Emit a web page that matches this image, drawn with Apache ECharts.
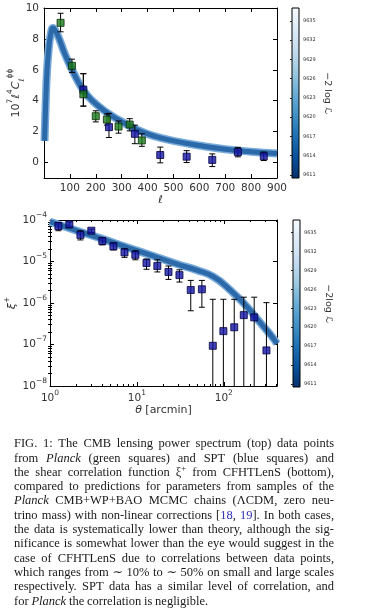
<!DOCTYPE html>
<html><head><meta charset="utf-8">
<script src="https://cdn.jsdelivr.net/npm/echarts@6/dist/echarts.min.js"></script>
<style>html,body{margin:0;padding:0;background:#fff}#c{width:368px;height:608px}</style>
</head><body><div id="c"></div>
<script>
// ---------- TOP PANEL DATA ----------
const ellCurve = [2,5,8,12,18,25,35,45,60,80,100,125,150,175,200,250,300,350,400,450,500,600,700,800,900];
const clCurve  = [1.4,3.0,4.5,6.0,7.3,8.2,8.7,8.5,7.95,7.05,6.3,5.45,4.72,4.2,3.8,3.15,2.65,2.2,1.85,1.6,1.4,1.1,0.86,0.7,0.58];

const planckEll = [64,108,152,200,243,288,331,378];
const planckVal = [9.04,6.26,4.42,3.0,2.78,2.33,2.46,1.43];
const planckLo  = [8.46,5.83,3.65,2.63,2.42,1.9,2.05,1.05];
const planckHi  = [9.66,6.69,5.75,3.35,3.14,2.69,2.84,1.86];

const sptEll = [152,251,351,449,551,650,749,849];
const sptVal = [4.72,2.29,1.86,0.49,0.38,0.17,0.68,0.41];
const sptLo  = [3.65,1.62,1.22,-0.02,0.0,-0.26,0.37,0.13];
const sptHi  = [5.75,3.18,2.42,1.0,0.77,0.56,0.98,0.68];

const topYTicks = [0,2,4,6,8,10];

// ---------- BOTTOM PANEL DATA ----------
const thetaCurve = [1,2,4,8,16,32,49,76,119,185,240,287,350,410];
const xiCurve = [9.1e-5,5.6e-5,3.5e-5,2.14e-5,1.32e-5,8.1e-6,6.2e-6,4.3e-6,2.04e-6,8.1e-7,4.2e-7,2.7e-7,1.66e-7,1.05e-7];

const thetaPts = [1.25,1.67,2.24,2.99,4.0,5.37,7.2,9.6,12.9,17.2,23.1,30.9,41.7,56,74.8,99,132,170,224,310];
const xiPts = [7.16e-5,7.87e-5,4.37e-5,5.52e-5,3.12e-5,2.32e-5,1.66e-5,1.45e-5,9.2e-6,7.8e-6,5.6e-6,4.7e-6,2.06e-6,2.14e-6,9.3e-8,2.1e-7,2.6e-7,5.1e-7,4.5e-7,7.2e-8];
const xiLo = [5.52e-5,6.52e-5,3.31e-5,5.0e-5,2.51e-5,1.9e-5,1.26e-5,1.1e-5,6.5e-6,5.6e-6,3.7e-6,3.2e-6,6.5e-7,7.9e-7,0,0,0,0,0,0];
const xiHi = [8.61e-5,8.95e-5,5.5e-5,6.0e-5,3.72e-5,2.82e-5,2.04e-5,1.82e-5,1.15e-5,1.1e-5,7.8e-6,6.3e-6,3.5e-6,3.5e-6,1.23e-6,1.23e-6,1.23e-6,1.38e-6,1.38e-6,1.02e-6];

const minorX = [2,3,4,5,6,7,8,9,20,30,40,50,60,70,80,90,200,300,400];
const minorYMant = [2,3,4,5,6,7,8,9];
const minorYDec = [-8,-7,-6,-5];

// ---------- COLORBAR ----------
const cbTicks = [9611,9614,9617,9620,9623,9626,9629,9632,9635];
const cbMin = 9610.5, cbMax = 9637;
const cbColors = ['#f7fbff','#deebf7','#c6dbef','#9ecae1','#6baed6','#4292c6','#2171b5','#08519c','#08306b'];

// ---------- CAPTION ----------
const capLines = [
 'FIG. 1: The CMB lensing power spectrum (top) data points',
 'from {i|Planck} (green squares) and SPT (blue squares) and',
 'the shear correlation function ξ{s|+} from CFHTLenS (bottom),',
 'compared to predictions for parameters from samples of the',
 '{i|Planck} CMB+WP+BAO MCMC chains (ΛCDM, zero neu-',
 'trino mass) with non-linear corrections [{b|18}, {b|19}]. In both cases,',
 'the data is systematically lower than theory, although the sig-',
 'nificance is somewhat lower than the eye would suggest in the',
 'case of CFHTLenS due to correlations between data points,',
 'which ranges from ∼ 10% to ∼ 50% on small and large scales',
 'respectively. SPT data has a similar level of correlation, and',
 'for {i|Planck} the correlation is negligible.'
];

// ======================================================
const FS = 'DejaVu Sans';
const LC = '#333';
const zip = (a,b)=>a.map((v,i)=>[v,b[i]]);
const axLine = {show:true, onZero:false, lineStyle:{color:'#000', width:1}};
const tickIn = (len, extra)=>Object.assign({show:true, inside:true, length:len, lineStyle:{color:'#000', width:1}}, extra||{});
const noSplit = {show:false};
const grad = {type:'linear', x:0, y:0, x2:0, y2:1, colorStops: cbColors.map((c,i)=>({offset:i/(cbColors.length-1), color:c}))};

const supRich = {
  b:{fontSize:10.5, color:LC, fontFamily:FS, lineHeight:18},
  s:{fontSize:7.5, color:LC, fontFamily:FS, verticalAlign:'top'}
};
function powLabel(v){
  const e = Math.log10(v);
  if (Math.abs(e - Math.round(e)) > 0.01) return '';
  const r = Math.round(e);
  return '{b|10}{s|' + (r < 0 ? '−' + (-r) : r) + '}';
}

function makeErr(logY, yMin){
  return function(params, api){
    const x = api.value(0), lo = api.value(1), hi = api.value(2);
    const cs = params.coordSys;
    const pHi = api.coord([x, hi]);
    let yb, capLo = true;
    if (logY && !(lo > yMin)) { yb = cs.y + cs.height; capLo = false; }
    else yb = api.coord([x, lo])[1];
    const st = {stroke:'#000', lineWidth:1};
    const ch = [
      {type:'line', shape:{x1:pHi[0], y1:pHi[1], x2:pHi[0], y2:yb}, style:st},
      {type:'line', shape:{x1:pHi[0]-3, y1:pHi[1], x2:pHi[0]+3, y2:pHi[1]}, style:st}
    ];
    if (capLo) ch.push({type:'line', shape:{x1:pHi[0]-3, y1:yb, x2:pHi[0]+3, y2:yb}, style:st});
    return {type:'group', children:ch};
  };
}

const minorXLog = minorX.map(v=>Math.log10(v));
const minorYLog = [];
minorYDec.forEach(d=>minorYMant.forEach(m=>minorYLog.push(d+Math.log10(m))));

const sqGreen = {color:'#1c7a1c', borderColor:'#0a2e0a', borderWidth:1};
const sqBlue = {color:'#1414a6', borderColor:'#00003c', borderWidth:1};

// caption layout (justified)
const CFS = 12.5, CFF = '"Liberation Serif", "DejaVu Serif", serif';
const mctx = document.createElement('canvas').getContext('2d');
const capFonts = {n:`${CFS}px ${CFF}`, i:`italic ${CFS}px ${CFF}`, b:`${CFS}px ${CFF}`, s:`${CFS*0.7}px ${CFF}`};
function wordWidth(w){
  let tot = 0;
  w.replace(/\{(\w)\|([^}]*)\}|([^{]+)/g, (m, st, t1, t2)=>{ mctx.font = capFonts[st||'n']; tot += mctx.measureText(st ? t1 : t2).width; return m; });
  return tot;
}
const capRich = {
  n:{fontSize:CFS, fontFamily:CFF, fill:'#1a1a1a', lineHeight:16},
  i:{fontSize:CFS, fontFamily:CFF, fontStyle:'italic', fill:'#1a1a1a', lineHeight:16},
  b:{fontSize:CFS, fontFamily:CFF, fill:'#3030b8', lineHeight:16},
  s:{fontSize:CFS*0.7, fontFamily:CFF, fill:'#1a1a1a', verticalAlign:'top'}
};
const capGraphics = [];
const capX0 = 14, capW = 320, capY0 = 444, capDY = 14.3;
mctx.font = capFonts.n;
const spW = mctx.measureText(' ').width;
capLines.forEach((line, li)=>{
  const words = line.split(' ');
  const ws = words.map(wordWidth);
  const tot = ws.reduce((a,b)=>a+b, 0);
  const last = li === capLines.length - 1;
  const natural = tot + (words.length - 1) * spW * 0.85;
  const sc = natural > capW ? capW / natural : 1;
  const gap = last ? spW * 0.9 : (capW - tot * sc) / (words.length - 1);
  let x = capX0;
  words.forEach((w, wi)=>{
    const txt = w.replace(/(^|\})([^{]+?)(?=\{|$)/g, (m, pre, t)=> pre + '{n|' + t + '}');
    capGraphics.push({type:'text', x:x, y:capY0 + li*capDY, scaleX:sc, silent:true,
      style:{text: /\{/.test(w) ? txt : '{n|' + w + '}', rich:capRich, verticalAlign:'middle', align:'left'}});
    x += ws[wi] * sc + gap;
  });
});

const chart = echarts.init(document.getElementById('c'), null, {renderer:'canvas', width:368, height:608});
const baseLabel = {color:LC, fontSize:10.5, fontFamily:FS};
const cbLabel = {customValues:cbTicks, fontSize:5, color:LC, fontFamily:FS, margin:4, formatter:v=>String(Math.round(v))};
const G = {outerBoundsMode:'none', containLabel:false};

const option = {
  animation:false,
  backgroundColor:'#fff',
  grid:[
    Object.assign({left:44, top:8, width:233, height:170}, G),
    Object.assign({left:50, top:220, width:227, height:166}, G),
    Object.assign({left:292, top:8, width:7, height:170, show:true, borderColor:'#000', borderWidth:1, backgroundColor:grad}, G),
    Object.assign({left:293, top:220, width:7, height:167, show:true, borderColor:'#000', borderWidth:1, backgroundColor:grad}, G)
  ],
  xAxis:[
    {type:'value', gridIndex:0, min:0, max:900, interval:100, position:'bottom', axisLine:axLine, axisTick:tickIn(4), splitLine:noSplit,
     axisLabel:Object.assign({margin:5, formatter:v=> v===0 ? '' : String(v)}, baseLabel),
     name:'ℓ', nameLocation:'middle', nameGap:16, nameTextStyle:{color:LC, fontSize:11, fontStyle:'italic', fontFamily:FS}},
    {type:'value', gridIndex:0, min:0, max:900, interval:100, position:'top', axisLine:axLine, axisTick:tickIn(4), splitLine:noSplit, axisLabel:{show:false}},
    {type:'log', logBase:10, gridIndex:1, min:1, max:410, position:'bottom', axisLine:axLine, axisTick:tickIn(4), splitLine:noSplit, minorTick:{show:false},
     axisLabel:{margin:3, formatter:powLabel, rich:supRich, color:LC},
     name:'{i|θ} {n|[arcmin]}', nameLocation:'middle', nameGap:13,
     nameTextStyle:{rich:{i:{fontStyle:'italic', fontSize:11, fontFamily:FS, color:LC}, n:{fontSize:11, fontFamily:FS, color:LC}}}},
    {type:'log', logBase:10, gridIndex:1, min:1, max:410, position:'top', axisLine:axLine, axisTick:tickIn(4), splitLine:noSplit, axisLabel:{show:false}},
    {type:'value', gridIndex:1, min:0, max:Math.log10(410), position:'bottom', axisLine:{show:false}, splitLine:noSplit,
     axisTick:tickIn(2, {customValues:minorXLog}), axisLabel:{show:false, customValues:minorXLog}},
    {type:'value', gridIndex:1, min:0, max:Math.log10(410), position:'top', axisLine:{show:false}, splitLine:noSplit,
     axisTick:tickIn(2, {customValues:minorXLog}), axisLabel:{show:false, customValues:minorXLog}},
    {type:'value', gridIndex:2, min:0, max:1, show:false},
    {type:'value', gridIndex:3, min:0, max:1, show:false}
  ],
  yAxis:[
    {type:'value', gridIndex:0, min:-1, max:10, position:'left', axisLine:axLine, splitLine:noSplit,
     axisTick:tickIn(4, {customValues:topYTicks}),
     axisLabel:Object.assign({margin:5, customValues:topYTicks}, baseLabel),
     name:'{n|10}{s|7}{i|ℓ}{s|4}{i|C}{d|ℓ}{s|ϕϕ}', nameLocation:'middle', nameRotate:90, nameGap:18, nameMoveOverlap:false,
     nameTextStyle:{rich:{
       n:{fontSize:11, fontFamily:FS, color:LC, lineHeight:20},
       i:{fontSize:11, fontFamily:FS, color:LC, fontStyle:'italic', lineHeight:20},
       s:{fontSize:7.5, fontFamily:FS, color:LC, verticalAlign:'top'},
       d:{fontSize:7.5, fontFamily:FS, color:LC, fontStyle:'italic', verticalAlign:'bottom'}}}},
    {type:'value', gridIndex:0, min:-1, max:10, position:'right', axisLine:axLine, splitLine:noSplit,
     axisTick:tickIn(4, {customValues:topYTicks}), axisLabel:{show:false, customValues:topYTicks}},
    {type:'log', logBase:10, gridIndex:1, min:1e-8, max:1e-4, position:'left', axisLine:axLine, axisTick:tickIn(4), splitLine:noSplit,
     axisLabel:{margin:3, formatter:powLabel, rich:supRich, color:LC},
     name:'{i|ξ}{s|+}', nameLocation:'middle', nameRotate:90, nameGap:29, nameMoveOverlap:false,
     nameTextStyle:{rich:{i:{fontSize:11, fontFamily:FS, color:LC, fontStyle:'italic', lineHeight:18}, s:{fontSize:7.5, fontFamily:FS, color:LC, verticalAlign:'top'}}}},
    {type:'log', logBase:10, gridIndex:1, min:1e-8, max:1e-4, position:'right', axisLine:axLine, axisTick:tickIn(4), splitLine:noSplit, axisLabel:{show:false}},
    {type:'value', gridIndex:1, min:-8, max:-4, position:'left', axisLine:{show:false}, splitLine:noSplit,
     axisTick:tickIn(2, {customValues:minorYLog}), axisLabel:{show:false, customValues:minorYLog}},
    {type:'value', gridIndex:1, min:-8, max:-4, position:'right', axisLine:{show:false}, splitLine:noSplit,
     axisTick:tickIn(2, {customValues:minorYLog}), axisLabel:{show:false, customValues:minorYLog}},
    {type:'value', gridIndex:2, min:cbMin, max:cbMax, position:'right', axisLine:{show:false}, splitLine:noSplit,
     axisTick:tickIn(2, {customValues:cbTicks, lineStyle:{color:'#222', width:1}}),
     axisLabel:cbLabel,
     name:'−2 log ℒ', nameLocation:'middle', nameRotate:-90, nameGap:23, nameTextStyle:{fontSize:9.5, color:LC, fontFamily:FS}},
    {type:'value', gridIndex:3, min:cbMin, max:cbMax, position:'right', axisLine:{show:false}, splitLine:noSplit,
     axisTick:tickIn(2, {customValues:cbTicks, lineStyle:{color:'#222', width:1}}),
     axisLabel:cbLabel,
     name:'−2log ℒ', nameLocation:'middle', nameRotate:-90, nameGap:23, nameTextStyle:{fontSize:9.5, color:LC, fontFamily:FS}}
  ],
  series:[
    {type:'line', xAxisIndex:0, yAxisIndex:0, data:zip(ellCurve, clCurve), smooth:true, showSymbol:false, silent:true,
     lineStyle:{width:8, color:'#78aada'}, z:1},
    {type:'line', xAxisIndex:0, yAxisIndex:0, data:zip(ellCurve, clCurve), smooth:true, showSymbol:false, silent:true,
     lineStyle:{width:5, color:'#2c69a8'}, z:2},
    {type:'custom', xAxisIndex:0, yAxisIndex:0, renderItem:makeErr(false), data:planckEll.map((x,i)=>[x, planckLo[i], planckHi[i]]), z:3, silent:true},
    {type:'custom', xAxisIndex:0, yAxisIndex:0, renderItem:makeErr(false), data:sptEll.map((x,i)=>[x, sptLo[i], sptHi[i]]), z:3, silent:true},
    {type:'scatter', xAxisIndex:0, yAxisIndex:0, data:zip(sptEll, sptVal), symbol:'rect', symbolSize:7, itemStyle:sqBlue, z:4, silent:true},
    {type:'scatter', xAxisIndex:0, yAxisIndex:0, data:zip(planckEll, planckVal), symbol:'rect', symbolSize:7, itemStyle:sqGreen, z:5, silent:true},

    {type:'line', xAxisIndex:2, yAxisIndex:2, data:zip(thetaCurve, xiCurve), smooth:true, showSymbol:false, silent:true,
     lineStyle:{width:8, color:'#78aada'}, z:1},
    {type:'line', xAxisIndex:2, yAxisIndex:2, data:zip(thetaCurve, xiCurve), smooth:true, showSymbol:false, silent:true,
     lineStyle:{width:5, color:'#2c69a8'}, z:2},
    {type:'custom', xAxisIndex:2, yAxisIndex:2, renderItem:makeErr(true, 1e-8), data:thetaPts.map((x,i)=>[x, xiLo[i] > 0 ? xiLo[i] : 1e-8, xiHi[i]]), z:3, silent:true},
    {type:'scatter', xAxisIndex:2, yAxisIndex:2, data:zip(thetaPts, xiPts), symbol:'rect', symbolSize:7, itemStyle:sqBlue, z:4, silent:true}
  ],
  graphic: capGraphics
};
chart.setOption(option);
</script>
</body></html>
